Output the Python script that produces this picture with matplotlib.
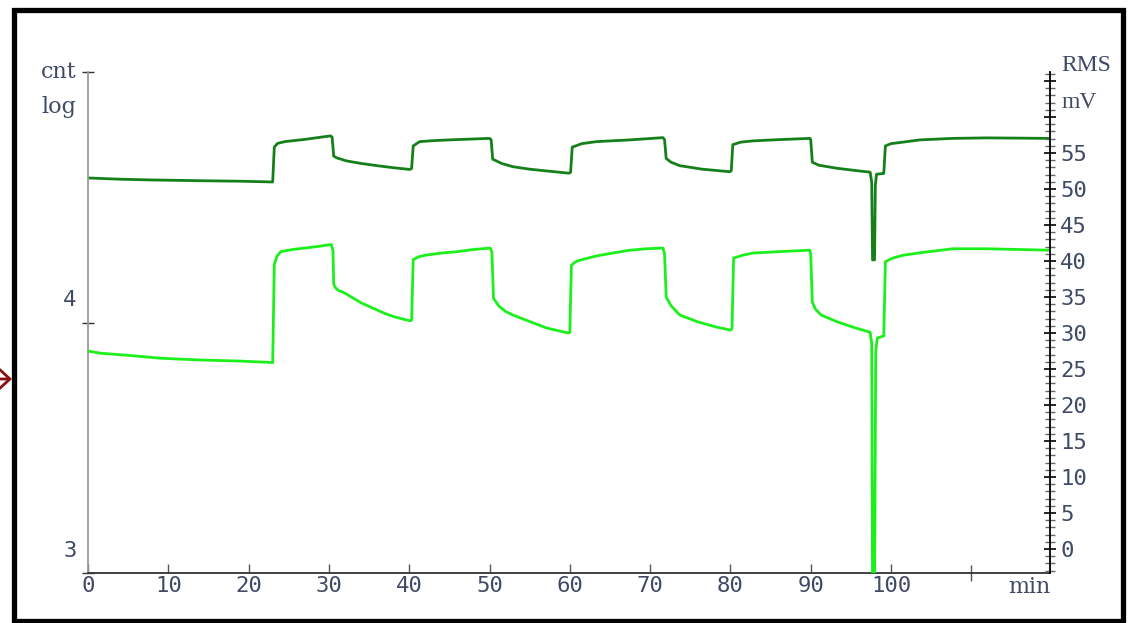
#!/usr/bin/python3
# Count rate (log) and RMS voltage over time, two traces on twin axes

import matplotlib
matplotlib.use('Agg')
import matplotlib.pyplot as plt
import matplotlib.transforms as mtransforms
from matplotlib.patches import Rectangle, FancyArrowPatch

# dark green trace: log10 of counts vs minutes
t_cnt = [0.0, 4.0, 8.0, 14.0, 19.0, 23.0,
         23.2, 23.6, 24.5, 27.0, 30.2,
         30.4, 30.6, 31.0, 32.2, 34.0, 36.0, 38.0, 40.1,
         40.3, 40.5, 41.3, 43.0, 45.0, 47.5, 50.0,
         50.2, 50.4, 51.5, 52.9, 55.0, 57.1, 59.9,
         60.1, 60.3, 61.5, 63.3, 67.5, 71.6,
         71.8, 72.0, 72.6, 73.7, 76.5, 79.9,
         80.1, 80.3, 81.3, 82.8, 86.0, 89.9,
         90.0, 90.2, 91.0, 93.2, 95.5, 97.4,
         97.6, 97.7, 97.95, 98.05, 98.2, 99.1,
         99.3, 100.0, 101.0, 103.6, 107.7, 112.0, 119.8]
log_cnt = [4.577, 4.572, 4.569, 4.566, 4.564, 4.561,
           4.700, 4.715, 4.722, 4.731, 4.745,
           4.740, 4.664, 4.657, 4.645, 4.635, 4.626, 4.618, 4.611,
           4.615, 4.705, 4.722, 4.726, 4.729, 4.732, 4.735,
           4.730, 4.652, 4.635, 4.622, 4.612, 4.605, 4.596,
           4.600, 4.700, 4.714, 4.722, 4.729, 4.738,
           4.730, 4.655, 4.640, 4.626, 4.612, 4.602,
           4.605, 4.710, 4.720, 4.725, 4.730, 4.735,
           4.730, 4.640, 4.628, 4.616, 4.607, 4.600,
           4.560, 4.250, 4.250, 4.550, 4.592, 4.595,
           4.705, 4.714, 4.718, 4.729, 4.735, 4.737, 4.735]

# bright green trace: RMS in mV vs minutes
t_rms = [0.0, 1.5, 5.0, 9.0, 14.0, 19.0, 23.0,
         23.2, 23.5, 24.0, 25.5, 27.0, 28.5, 30.3,
         30.5, 30.6, 30.8, 31.2, 31.9, 32.8, 34.0, 35.0, 36.0, 37.0, 38.0, 39.0, 40.1,
         40.3, 40.5, 41.2, 42.0, 44.0, 46.0, 48.0, 50.1,
         50.3, 50.5, 51.2, 52.0, 52.9, 55.0, 57.1, 59.8,
         60.0, 60.2, 60.6, 61.2, 63.3, 65.3, 67.5, 69.5, 71.6,
         71.8, 72.0, 72.6, 73.7, 75.8, 78.0, 80.0,
         80.2, 80.4, 81.5, 82.8, 86.0, 89.9,
         90.0, 90.2, 90.6, 91.3, 93.2, 95.3, 97.4,
         97.6, 97.7, 97.95, 98.1, 98.3, 99.1,
         99.3, 100.2, 101.5, 104.0, 107.7, 112.0, 119.8]
rms = [27.5, 27.2, 26.9, 26.5, 26.25, 26.1, 25.9,
       39.5, 40.6, 41.3, 41.6, 41.8, 42.0, 42.3,
       41.5, 36.8, 36.3, 35.9, 35.6, 35.0, 34.2, 33.7, 33.2, 32.7, 32.3, 32.0, 31.7,
       31.8, 40.2, 40.6, 40.8, 41.1, 41.3, 41.6, 41.8,
       41.2, 34.8, 33.7, 33.0, 32.5, 31.6, 30.7, 30.0,
       30.1, 39.4, 39.8, 40.1, 40.7, 41.1, 41.5, 41.7, 41.8,
       41.0, 35.0, 33.8, 32.5, 31.6, 30.9, 30.4,
       30.6, 40.4, 40.8, 41.1, 41.3, 41.5,
       41.0, 34.3, 33.3, 32.5, 31.6, 30.8, 30.1,
       28.5, -5.0, -5.0, 27.5, 29.3, 29.6,
       39.9, 40.4, 40.8, 41.2, 41.7, 41.7, 41.5]

x_ticks = [0, 10, 20, 30, 40, 50, 60, 70, 80, 90, 100]
x_labels = ['0', '10', '20', '30', '40', '50', '60', '70', '80', '90', '100']
log_ticks = [3, 4]
log_labels = ['3', '4']
rms_ticks = [0, 5, 10, 15, 20, 25, 30, 35, 40, 45, 50, 55, 60, 65]
rms_labels = ['0', '5', '10', '15', '20', '25', '30', '35', '40', '45', '50', '55', '', '']

txtcol = '#404a66'
numfont = dict(family='DejaVu Sans Mono', size=16, color=txtcol)

fig = plt.figure(figsize=(11.3, 6.23), dpi=100)
ax = fig.add_axes([88/1130, 50/623, 962/1130, 501/623])
ax2 = ax.twinx()

ax.plot(t_cnt, log_cnt, color='#15801a', linewidth=2.0)
ax2.plot(t_rms, rms, color='#1cf01c', linewidth=2.0)

ax.set_xlim(0, 119.8)
ax.set_ylim(3, 5)
ax2.set_ylim(-3.33, 66.25)

for a in (ax, ax2):
    a.spines['top'].set_visible(False)
ax.spines['right'].set_visible(False)
ax2.spines['left'].set_visible(False)
ax2.spines['bottom'].set_visible(False)
ax.spines['left'].set_color('#999999')
ax.spines['left'].set_linewidth(1.3)
ax.spines['bottom'].set_color('#333333')
ax.spines['bottom'].set_linewidth(1.3)
ax2.spines['right'].set_color('black')
ax2.spines['right'].set_linewidth(1.3)

# x axis
ax.set_xticks(x_ticks)
ax.set_xticklabels(x_labels, fontdict=numfont)
ax.set_xticks([110], minor=True)
ax.tick_params(axis='x', which='major', direction='in', length=6.5, width=1,
               color='#555555', pad=2)
ax.tick_params(axis='x', which='minor', direction='inout', length=12, width=1,
               color='#555555')

# left log axis, labels sit above their ticks
ax.set_yticks(log_ticks + [5])
ax.set_yticklabels(log_labels + [''], fontdict=numfont)
ax.tick_params(axis='y', direction='inout', length=8.6, width=1, color='#333333', pad=4)
offset = mtransforms.ScaledTranslation(0, 0.24, fig.dpi_scale_trans)
for lab in ax.get_yticklabels():
    lab.set_transform(lab.get_transform() + offset)

# right RMS axis
ax2.set_yticks(rms_ticks)
ax2.set_yticklabels(rms_labels, fontdict=numfont)
ax2.set_yticks(range(-3, 67), minor=True)
ax2.tick_params(axis='y', which='major', direction='inout', length=8.6, width=1.2,
                color='black', pad=3)
ax2.tick_params(axis='y', which='minor', direction='inout', length=7.5, width=1,
                color='#666666')

# unit labels
ax.text(-0.012, 1.0, 'cnt', transform=ax.transAxes, ha='right', va='center',
        family='DejaVu Serif', fontsize=16, color=txtcol)
ax.text(-0.012, 0.93, 'log', transform=ax.transAxes, ha='right', va='center',
        family='DejaVu Serif', fontsize=16, color=txtcol)
ax2.text(1.012, 1.012, 'RMS', transform=ax2.transAxes, ha='left', va='center',
         family='Liberation Serif', fontsize=17, color=txtcol)
ax2.text(1.012, 0.94, 'mV', transform=ax2.transAxes, ha='left', va='center',
         family='Liberation Serif', fontsize=17, color=txtcol)
ax.text(1.0, -0.028, 'min', transform=ax.transAxes, ha='right', va='center',
        family='DejaVu Serif', fontsize=16, color=txtcol)

# outer frame and the little marker arrow on the left
fig.patches.append(Rectangle((14/1130, 2/623), 1108.5/1130, 611/623,
                             transform=fig.transFigure, fill=False,
                             edgecolor='black', linewidth=3.8))
fig.add_artist(FancyArrowPatch(
    (0.0, 244/623), (12/1130, 244/623), transform=fig.transFigure,
    arrowstyle='->,head_length=0.6,head_width=0.55', mutation_scale=20,
    color='#8b1010', linewidth=2.0, shrinkA=0, shrinkB=0))

fig.savefig('out.png', dpi=100)
